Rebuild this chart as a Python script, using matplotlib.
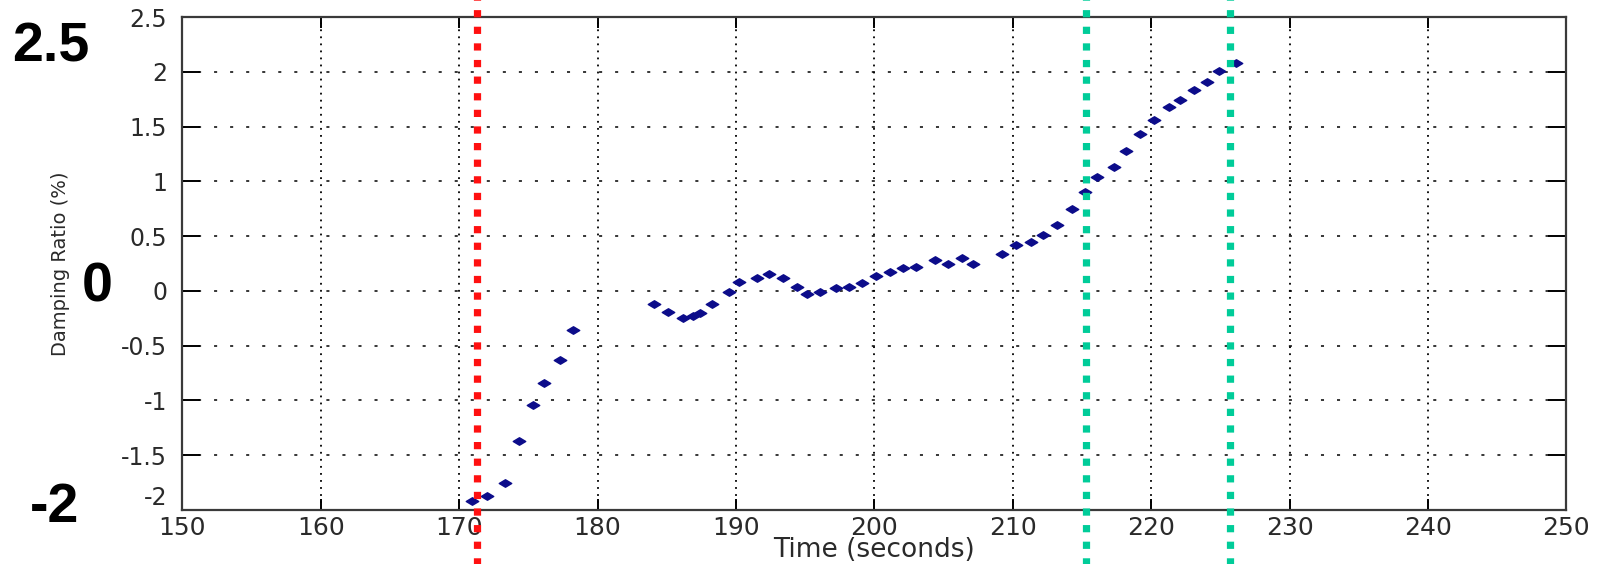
import matplotlib
matplotlib.use('Agg')
import matplotlib.pyplot as plt
from matplotlib.path import Path
import numpy as np

# damping ratio estimates
time_s = [170.9, 172.0, 173.3, 174.3, 175.3, 176.1, 177.3, 178.2,
          184.1, 185.1, 186.2, 186.9, 187.4, 188.3, 189.5, 190.2, 191.5, 192.4, 193.4, 194.4,
          195.1, 196.1, 197.2, 198.2, 199.1, 200.1, 201.1, 202.1, 203.0, 204.4, 205.3, 206.3, 207.1,
          209.2, 210.2, 211.3, 212.2, 213.2, 214.3, 215.2, 216.1, 217.3, 218.2,
          219.2, 220.2, 221.3, 222.1, 223.1, 224.0, 224.9, 226.1]
damping = [-1.92, -1.87, -1.75, -1.37, -1.04, -0.84, -0.63, -0.36,
           -0.12, -0.19, -0.245, -0.23, -0.205, -0.12, -0.01, 0.085, 0.115, 0.155, 0.115, 0.04,
           -0.03, -0.01, 0.025, 0.04, 0.075, 0.14, 0.17, 0.21, 0.22, 0.28, 0.25, 0.305, 0.25,
           0.34, 0.415, 0.445, 0.515, 0.605, 0.75, 0.905, 1.04, 1.135, 1.28,
           1.43, 1.56, 1.68, 1.745, 1.83, 1.905, 2.01, 2.08]

# event markers (vertical lines)
red_event = [171.3]
green_events = [215.3, 225.7]

x_ticks = list(range(150, 251, 10))
y_ticks = [-2, -1.5, -1, -0.5, 0, 0.5, 1, 1.5, 2, 2.5]
y_tick_labels = ['-2', '-1.5', '-1', '-0.5', '0', '0.5', '1', '1.5', '2', '2.5']
big_labels = ['2.5', '0', '-2']

fig = plt.figure(figsize=(16, 5.64), dpi=100)
ax = fig.add_axes([0.114, 0.0957, 0.865, 0.874])

# wide diamond marker
diamond = Path([(-1, 0), (0, 0.6), (1, 0), (0, -0.6), (-1, 0)],
               [Path.MOVETO, Path.LINETO, Path.LINETO, Path.LINETO, Path.CLOSEPOLY])
ax.plot(time_s, damping, linestyle='none', marker=diamond, markersize=9,
        color='#0c0c8a', zorder=3)

ax.set_xlim(150, 250)
ax.set_ylim(-2, 2.5)
ax.set_xticks(x_ticks)
ax.set_yticks(y_ticks)
ax.set_yticklabels(y_tick_labels)

# MATLAB-ish dotted grid
ax.xaxis.grid(True, color='black', linewidth=1.3, linestyle=(0, (1, 2.9)))
ax.yaxis.grid(True, color='black', linewidth=1.1, linestyle=(0, (2, 8.5)))
ax.set_axisbelow(True)

for s in ax.spines.values():
    s.set_color('#3a3a3a')
    s.set_linewidth(1.6)

ax.tick_params(axis='x', direction='in', length=8, width=1.4, top=True,
               labelsize=18, labelcolor='#2a2a2a', pad=4)
ax.tick_params(axis='y', direction='in', length=13, width=1.4, right=True,
               labelsize=17, labelcolor='#2a2a2a', pad=11)
# lowest y label sits just above the x axis, like the original
ax.get_yticklabels()[0].set_va('bottom')

ax.set_xlabel('Time (seconds)', fontsize=19, color='#2a2a2a', labelpad=-2)
ax.set_ylabel('Damping Ratio (%)', fontsize=14, color='#2a2a2a')
ax.yaxis.set_label_coords(-0.088, 0.5)
ax.yaxis.label.set_va('center')

# vertical event lines running over the whole figure height
for xv in red_event:
    ax.axvline(xv, ymin=-0.12, ymax=1.05, color='#ff1010', linewidth=5.2,
               linestyle=(0, (1, 1.3)), clip_on=False, zorder=5)
for xv in green_events:
    ax.axvline(xv, ymin=-0.12, ymax=1.05, color='#00cc99', linewidth=5.2,
               linestyle=(0, (1, 1.3)), clip_on=False, zorder=5)

# large bold annotations on the left
big_pos = [(0.032, 0.915), (0.061, 0.49), (0.034, 0.1)]
for txt, (fx, fy) in zip(big_labels, big_pos):
    fig.text(fx, fy, txt, fontsize=40, fontweight='bold', ha='center', va='center',
             family=['Liberation Sans', 'DejaVu Sans'], color='black')

fig.savefig('out.png', dpi=100)
